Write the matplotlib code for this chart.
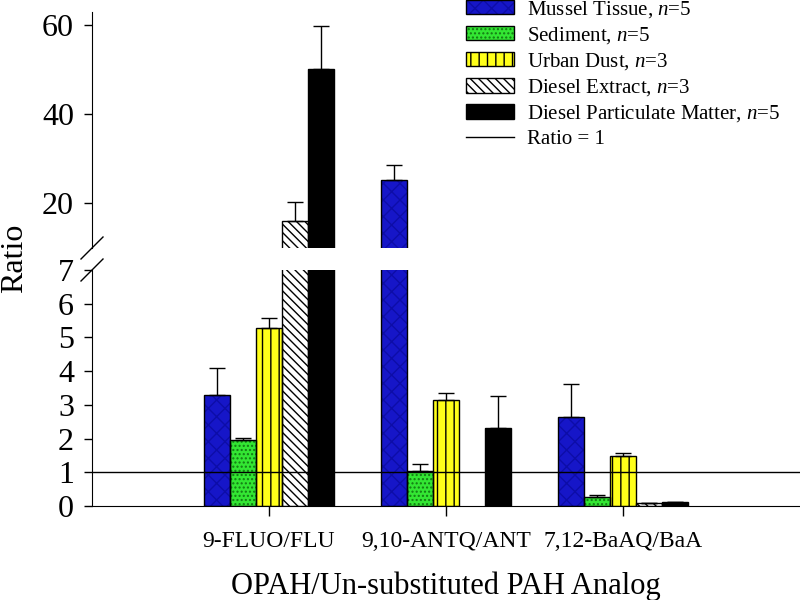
import numpy as np
import matplotlib
matplotlib.use("Agg")
import matplotlib.pyplot as plt
from matplotlib.lines import Line2D
from matplotlib.patches import Patch

plt.rcParams["font.family"] = "Liberation Serif"
plt.rcParams["mathtext.fontset"] = "custom"
plt.rcParams["mathtext.it"] = "Liberation Serif:italic"
plt.rcParams["mathtext.rm"] = "Liberation Serif"
plt.rcParams["hatch.linewidth"] = 1.0

# data
categories = ["9-FLUO/FLU", "9,10-ANTQ/ANT", "7,12-BaAQ/BaA"]
series_names = [
    r"Mussel Tissue, $n$=5",
    r"Sediment, $n$=5",
    r"Urban Dust, $n$=3",
    r"Diesel Extract, $n$=3",
    r"Diesel Particulate Matter, $n$=5",
]
mussel = [3.3, 25.2, 2.65]
mussel_err = [0.8, 3.5, 0.97]
sediment = [1.97, 1.04, 0.26]
sediment_err = [0.04, 0.2, 0.07]
urban = [5.29, 3.13, 1.49]
urban_err = [0.29, 0.22, 0.09]
diesel_ext = [16.0, np.nan, 0.08]
diesel_ext_err = [4.4, np.nan, 0.0]
dpm = [50.3, 2.31, 0.11]
dpm_err = [9.5, 0.96, 0.02]

values = [mussel, sediment, urban, diesel_ext, dpm]
errors = [mussel_err, sediment_err, urban_err, diesel_ext_err, dpm_err]

# styles: fill, hatch, hatch colour
styles = [
    ("#1616c8", "xx", "#0d0da8"),
    ("#33e633", "....", "#137a13"),
    ("#ffff1a", "||", "black"),
    ("white", "\\\\\\\\", "black"),
    ("black", "", "black"),
]

fig = plt.figure(figsize=(8, 6), dpi=100)
left, right = 92 / 800, 1.0
ax_lo = fig.add_axes([left, 1 - 506 / 600, right - left, (506 - 270) / 600])
ax_hi = fig.add_axes([left, 1 - 248 / 600, right - left, (248 - 12) / 600])

x = np.arange(1, len(categories) + 1)
width = 0.148
offsets = (np.arange(5) - 2) * width

for ax in (ax_lo, ax_hi):
    for i, (vals, errs) in enumerate(zip(values, errors)):
        fc, hatch, hc = styles[i]
        pos = x + offsets[i]
        ax.bar(pos, vals, width, color=fc, hatch=hatch, edgecolor=hc, linewidth=0, zorder=2)
        ax.bar(pos, vals, width, fill=False, edgecolor="black", linewidth=1, zorder=3)
        ax.errorbar(pos, vals, yerr=[np.zeros(len(errs)), errs], fmt="none",
                    ecolor="black", elinewidth=1, capsize=6, capthick=1, zorder=4)
    ax.set_xlim(0, 4)
    ax.spines["top"].set_visible(False)
    ax.spines["right"].set_visible(False)
    ax.tick_params(axis="y", labelsize=23, direction="out", length=6, width=1, pad=7)

ax_lo.set_ylim(0, 7)
ax_lo.set_yticks(range(0, 8))
ax_lo.axhline(1, color="black", linewidth=1, zorder=5)
ax_lo.set_xticks(x)
ax_lo.set_xticklabels(categories, fontsize=17)
ax_lo.tick_params(axis="x", direction="out", length=7, width=1, pad=11)
ax_lo.set_xlabel("OPAH/Un-substituted PAH Analog", fontsize=22, labelpad=14)

ax_hi.set_ylim(10, 63)
ax_hi.set_yticks([20, 40, 60])
ax_hi.spines["bottom"].set_visible(False)
ax_hi.set_xticks([])

fig.text(0.0, 1 - 258 / 600, "Ratio", rotation=90, fontsize=23, va="center", ha="left")

# break marks on the y axis
for yc in (248, 270):
    fig.add_artist(Line2D([(left * 800 - 11) / 800, (left * 800 + 11) / 800],
                          [1 - (yc + 11) / 600, 1 - (yc - 11) / 600],
                          color="black", linewidth=1, transform=fig.transFigure))

handles = []
for fc, hatch, hc in styles:
    handles.append((Patch(facecolor=fc, hatch=hatch, edgecolor=hc, linewidth=0),
                    Patch(fill=False, edgecolor="black", linewidth=1)))
handles.append(Line2D([], [], color="black", linewidth=1))
labels = series_names + ["Ratio = 1"]
fig.legend(handles, labels, loc="upper left", bbox_to_anchor=(458 / 800, 1.016),
           frameon=False, fontsize=15, handlelength=2.3, handleheight=0.7,
           labelspacing=0.25, handletextpad=0.6, borderaxespad=0)

fig.savefig("out.png", dpi=100)
